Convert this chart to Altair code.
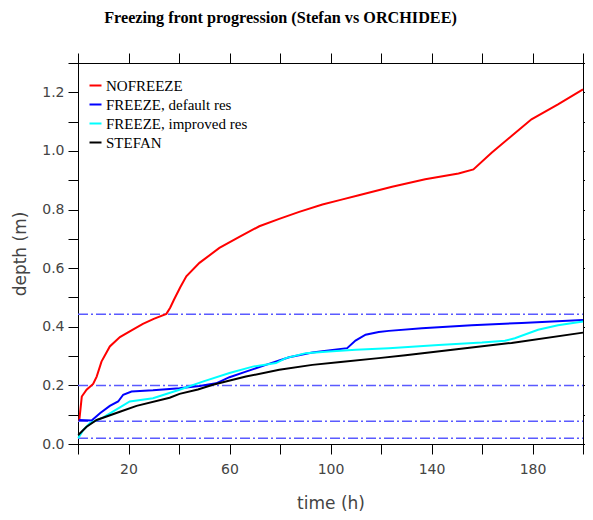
import altair as alt
import pandas as pd

# ---- data ----
series_names = ["NOFREEZE", "FREEZE, default res", "FREEZE, improved res", "STEFAN"]
series_colors = ["#ff0000", "#0000ff", "#00ffff", "#000000"]

nofreeze_t = [0.5, 1.5, 3.4, 6, 7.4, 9.3, 12.6, 16.6, 21.2, 25.7, 30, 35, 36.5, 38, 40.5, 42.9,
              48.1, 56, 63.9, 71.8, 79.7, 87.6, 96.8, 104, 111.2, 124.4, 137.5, 150.7, 156.6,
              163.8, 171.7, 179.6, 190.1, 200]
nofreeze_d = [0.08, 0.162, 0.185, 0.205, 0.23, 0.281, 0.333, 0.365, 0.388, 0.41, 0.427, 0.444,
              0.465, 0.492, 0.535, 0.572, 0.618, 0.669, 0.707, 0.743, 0.768, 0.792, 0.817,
              0.833, 0.849, 0.878, 0.903, 0.923, 0.937, 0.994, 1.051, 1.108, 1.159, 1.21]

default_t = [0.4, 5.4, 8.7, 12.6, 15.9, 17.9, 21.2, 29.7, 40.2, 48.1, 54.7, 60, 66.5, 74.4,
             79.7, 83.6, 92.8, 100, 106.6, 109.9, 113.9, 119.1, 123.1, 136.2, 155.9, 175.7, 200]
default_d = [0.082, 0.08, 0.105, 0.13, 0.145, 0.168, 0.179, 0.183, 0.19, 0.198, 0.207, 0.228,
             0.247, 0.27, 0.285, 0.296, 0.312, 0.32, 0.327, 0.353, 0.373, 0.382, 0.386, 0.395,
             0.405, 0.413, 0.423]

improved_t = [0.1, 2.1, 4.7, 10, 16.6, 20.5, 29.7, 40.2, 49.4, 60, 69.2, 78.4, 82.3, 90.2,
              99.4, 110, 123.1, 142.8, 160, 169.1, 173, 182.2, 190.1, 200]
improved_d = [0.02, 0.048, 0.071, 0.091, 0.125, 0.145, 0.156, 0.185, 0.213, 0.242, 0.264,
              0.276, 0.293, 0.31, 0.316, 0.322, 0.327, 0.338, 0.346, 0.352, 0.361, 0.39,
              0.405, 0.418]

stefan_t = [0.1, 3.4, 7.4, 16.6, 23.2, 36.3, 40.2, 47.5, 53.4, 66.5, 79.7, 92.8, 104, 119.1,
            129.7, 155.9, 171.7, 200]
stefan_d = [0.031, 0.059, 0.082, 0.11, 0.13, 0.158, 0.171, 0.186, 0.202, 0.23, 0.253, 0.27,
            0.28, 0.293, 0.303, 0.329, 0.345, 0.38]

layer_depths = [0.02, 0.078, 0.2, 0.443]

x_ticks = list(range(0, 201, 20))
y_ticks = [round(i * 0.1, 1) for i in range(0, 14)]

# ---- build table ----
rows = []
for name, ts, ds in zip(series_names,
                        [nofreeze_t, default_t, improved_t, stefan_t],
                        [nofreeze_d, default_d, improved_d, stefan_d]):
    for i, (t, d) in enumerate(zip(ts, ds)):
        rows.append({"series": name, "time": t, "depth": d, "order": i})
df = pd.DataFrame(rows)
layers_df = pd.DataFrame({"depth": layer_depths})

axis_common = dict(
    domainColor="black", tickColor="black", tickSize=10, tickWidth=1,
    grid=False, labelFont="DejaVu Sans", labelFontSize=14, labelColor="#444444",
    titleFont="DejaVu Sans", titleFontSize=17, titleFontWeight="normal", titleColor="#444444",
)

W, H = 505, 381
x_scale = alt.Scale(domain=[0, 200], nice=False, zero=False)
y_scale = alt.Scale(domain=[0, 1.3], nice=False, zero=True)

rules = alt.Chart(layers_df).mark_rule(
    color="#5a5aff", strokeWidth=1.5, strokeDash=[10, 3, 2, 3]
).encode(
    y=alt.Y("depth:Q", scale=y_scale,
            axis=alt.Axis(orient="left", values=y_ticks, title="depth (m)",
                          labelExpr="round(datum.value*10) % 2 == 0 ? format(datum.value, '.1f') : ''",
                          labelPadding=4, titlePadding=12, **axis_common)),
    x=alt.value(0),
    x2=alt.value(W),
)

# invisible helper for bottom axis
bottom = alt.Chart(layers_df).mark_rule(opacity=0).encode(
    x=alt.X("xv:Q", scale=x_scale,
            axis=alt.Axis(orient="bottom", values=x_ticks, title="time (h)",
                          labelExpr="datum.value % 40 == 20 ? datum.label : ''",
                          labelPadding=8, titlePadding=19, **axis_common)),
).transform_calculate(xv="100")

lines = alt.Chart(df).mark_line(strokeWidth=2).encode(
    x=alt.X("time:Q", scale=x_scale,
            axis=alt.Axis(orient="top", values=x_ticks, labels=False, title=None,
                          **axis_common)),
    y=alt.Y("depth:Q", scale=y_scale,
            axis=alt.Axis(orient="right", values=y_ticks, labels=False, title=None,
                          **axis_common)),
    color=alt.Color("series:N",
                    scale=alt.Scale(domain=series_names, range=series_colors),
                    legend=alt.Legend(orient="none", legendX=10, legendY=15, title=None,
                                      symbolType="stroke", symbolSize=144,
                                      symbolStrokeWidth=2, labelFont="Liberation Serif",
                                      labelFontSize=15, labelColor="black",
                                      labelOffset=3, rowPadding=3)),
    order="order:Q",
)

chart = alt.layer(rules, bottom, lines).resolve_axis(
    x="independent", y="independent"
).properties(
    width=W, height=H,
    autosize=alt.AutoSizeParams(type="none"),
    padding={"left": 70, "top": 55, "right": 2, "bottom": 68},
    title=alt.TitleParams(
        "Freezing front progression (Stefan vs ORCHIDEE)",
        font="Liberation Serif", fontSize=16.2, fontWeight="bold", color="black",
        anchor="middle", dx=-50, offset=26,
    ),
).configure_view(stroke="black", strokeWidth=1)

chart.save("out.html", embed_options={"renderer": "svg", "actions": False})
